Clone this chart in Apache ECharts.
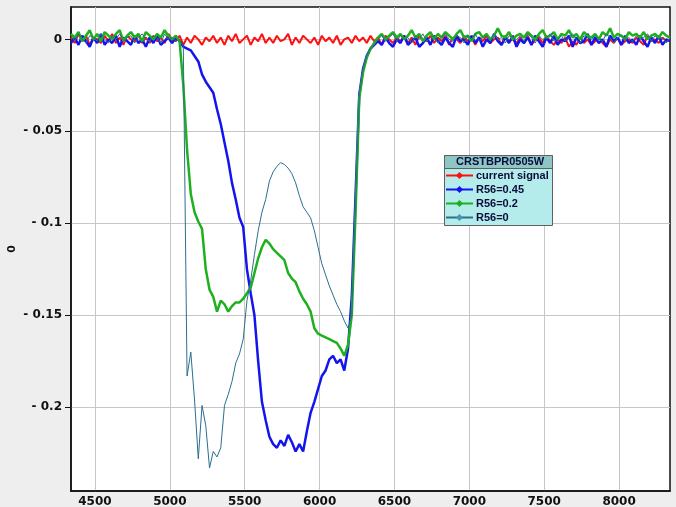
<!DOCTYPE html>
<html>
<head>
<meta charset="utf-8">
<title>CRSTBPR0505W</title>
<script src="https://cdn.jsdelivr.net/npm/echarts@6/dist/echarts.min.js"></script>
<style>
  html, body { margin: 0; padding: 0; background: #eeeeee; }
  #chart { width: 676px; height: 507px; }
</style>
</head>
<body>
<div id="chart"></div>
<script>
// Sample positions (x axis)
const xs = [
  4340,4365,4390,4415,4440,4465,4490,4515,4540,4565,
  4590,4615,4640,4665,4690,4715,4740,4765,4790,4815,
  4840,4865,4890,4915,4940,4965,4990,5015,5040,5065,
  5090,5115,5140,5165,5190,5215,5240,5265,5290,5315,
  5340,5365,5390,5415,5440,5465,5490,5515,5540,5565,
  5590,5615,5640,5665,5690,5715,5740,5765,5790,5815,
  5840,5865,5890,5915,5940,5965,5990,6015,6040,6065,
  6090,6115,6140,6165,6190,6215,6240,6265,6290,6315,
  6340,6365,6390,6415,6440,6465,6490,6515,6540,6565,
  6590,6615,6640,6665,6690,6715,6740,6765,6790,6815,
  6840,6865,6890,6915,6940,6965,6990,7015,7040,7065,
  7090,7115,7140,7165,7190,7215,7240,7265,7290,7315,
  7340,7365,7390,7415,7440,7465,7490,7515,7540,7565,
  7590,7615,7640,7665,7690,7715,7740,7765,7790,7815,
  7840,7865,7890,7915,7940,7965,7990,8015,8040,8065,
  8090,8115,8140,8165,8190,8215,8240,8265,8290,8315,
  8340
];

// current signal
const currentSignal = [
  0.001,-0.002,0.003,-0.001,0.002,-0.003,0.001,0.000,-0.002,0.002,
  -0.001,0.003,-0.002,0.001,-0.003,0.002,0.000,-0.001,0.003,-0.002,
  0.001,-0.002,0.002,-0.001,0.001,-0.002,0.003,0.000,-0.001,0.002,
  -0.003,0.001,-0.002,0.002,0.000,-0.003,0.001,-0.001,0.002,-0.002,
  0.001,-0.003,0.002,-0.001,0.003,-0.002,0.000,0.002,-0.003,0.001,
  -0.001,0.003,-0.002,0.001,-0.002,0.002,-0.001,0.000,0.003,-0.003,
  0.001,-0.002,0.002,0.000,-0.002,0.001,-0.003,0.002,-0.001,0.001,
  -0.002,0.002,-0.003,0.000,0.001,-0.002,0.002,-0.001,0.001,-0.002,
  0.002,-0.001,0.001,-0.003,0.002,0.000,-0.002,0.001,-0.001,0.002,
  -0.002,0.001,-0.003,0.002,0.000,-0.001,0.002,-0.002,0.001,-0.001,
  0.002,-0.003,0.001,0.000,-0.002,0.002,-0.001,0.001,-0.003,0.001,
  -0.001,0.002,-0.002,0.000,0.001,-0.003,0.002,-0.001,0.000,-0.002,
  0.001,-0.002,0.002,-0.003,0.000,0.001,-0.002,0.002,-0.001,-0.003,
  0.000,-0.002,0.001,-0.004,-0.001,-0.003,0.001,-0.002,0.000,-0.003,
  -0.001,0.001,-0.002,-0.004,0.000,-0.002,0.001,-0.003,-0.001,0.000,
  -0.002,0.001,-0.001,-0.003,0.002,-0.001,0.000,-0.002,0.001,-0.001,
  0.000
];

// R56=0.45
const r56_045 = [
  -0.002,0.001,-0.003,0.002,-0.001,-0.004,0.001,-0.002,0.003,-0.003,
  0.000,-0.002,0.002,-0.004,0.001,-0.001,-0.003,0.002,-0.002,0.000,
  -0.004,0.001,-0.002,0.002,-0.003,-0.001,0.001,-0.002,0.001,-0.001,
  -0.004,-0.005,-0.006,-0.009,-0.012,-0.019,-0.023,-0.026,-0.029,-0.038,
  -0.046,-0.056,-0.066,-0.078,-0.087,-0.097,-0.102,-0.125,-0.138,-0.150,
  -0.175,-0.197,-0.207,-0.216,-0.220,-0.222,-0.218,-0.221,-0.215,-0.219,
  -0.224,-0.220,-0.224,-0.213,-0.203,-0.197,-0.190,-0.183,-0.180,-0.174,
  -0.172,-0.176,-0.174,-0.180,-0.168,-0.140,-0.085,-0.030,-0.016,-0.009,
  -0.005,-0.003,-0.001,-0.003,0.001,-0.002,-0.004,0.000,-0.002,0.002,
  -0.003,-0.001,0.001,-0.004,-0.002,0.001,-0.003,0.002,-0.001,-0.003,
  0.001,-0.002,-0.004,0.002,-0.001,0.000,-0.003,0.002,-0.002,0.001,
  -0.004,0.000,-0.002,0.003,-0.001,-0.003,0.001,-0.002,0.002,-0.004,
  0.000,-0.002,0.001,-0.003,0.002,-0.001,-0.004,0.001,-0.002,0.002,
  -0.003,0.000,-0.001,0.002,-0.004,0.001,-0.002,-0.001,0.003,-0.003,
  0.001,-0.002,0.000,-0.004,0.002,-0.001,0.001,-0.003,0.002,-0.002,
  0.000,-0.003,0.002,-0.001,-0.004,0.001,-0.002,0.002,-0.003,0.000,
  -0.001
];

// R56=0.2
const r56_02 = [
  0.003,0.001,0.004,-0.001,0.002,0.005,0.000,0.003,-0.001,0.004,
  0.002,0.000,0.003,0.005,-0.001,0.002,0.004,0.001,0.003,-0.001,
  0.004,0.002,0.000,0.003,0.001,0.005,0.002,0.000,0.002,-0.001,
  -0.025,-0.060,-0.084,-0.094,-0.099,-0.103,-0.125,-0.136,-0.140,-0.148,
  -0.142,-0.144,-0.148,-0.145,-0.143,-0.143,-0.141,-0.138,-0.135,-0.127,
  -0.119,-0.113,-0.109,-0.111,-0.114,-0.116,-0.118,-0.120,-0.127,-0.130,
  -0.132,-0.137,-0.141,-0.144,-0.148,-0.157,-0.160,-0.161,-0.162,-0.163,
  -0.164,-0.165,-0.168,-0.172,-0.166,-0.150,-0.095,-0.032,-0.018,-0.010,
  -0.005,-0.002,0.001,0.003,0.000,0.002,0.004,0.001,0.003,0.000,
  0.002,0.005,0.001,0.003,-0.001,0.002,0.004,0.000,0.003,0.001,
  0.004,0.002,0.000,0.003,0.005,0.001,0.002,-0.001,0.003,0.004,
  0.001,0.003,0.000,0.002,0.006,0.002,0.001,0.004,0.000,0.002,
  0.003,0.001,0.004,0.002,0.000,0.003,0.005,0.001,0.002,0.004,
  0.000,0.003,0.002,0.005,0.001,0.003,0.000,0.004,0.002,0.001,
  0.003,0.000,0.004,0.002,0.006,0.001,0.003,0.002,0.000,0.004,
  0.002,0.003,0.001,0.004,0.000,0.002,0.003,0.001,0.004,0.002,
  0.001
];

// R56=0
const r56_0 = [
  0.002,-0.001,0.003,0.000,-0.002,0.002,0.001,-0.001,0.003,0.000,
  -0.002,0.002,0.000,0.003,-0.001,0.001,0.002,-0.002,0.001,0.003,
  0.000,-0.001,0.002,0.001,-0.002,0.003,0.000,0.001,-0.001,0.000,
  -0.004,-0.183,-0.170,-0.196,-0.228,-0.199,-0.210,-0.233,-0.224,-0.227,
  -0.222,-0.199,-0.193,-0.186,-0.176,-0.171,-0.163,-0.142,-0.131,-0.117,
  -0.104,-0.094,-0.087,-0.077,-0.072,-0.069,-0.067,-0.068,-0.070,-0.073,
  -0.078,-0.085,-0.091,-0.094,-0.097,-0.104,-0.113,-0.122,-0.128,-0.134,
  -0.139,-0.144,-0.148,-0.153,-0.157,-0.150,-0.090,-0.030,-0.016,-0.009,
  -0.005,-0.003,0.000,0.002,-0.001,0.001,0.003,-0.001,0.002,0.000,
  0.001,-0.002,0.002,0.000,0.003,-0.001,0.001,0.002,-0.002,0.001,
  0.003,0.000,-0.001,0.002,0.001,-0.002,0.002,0.000,0.003,-0.001,
  0.001,0.002,-0.001,0.003,0.000,0.001,-0.002,0.002,0.001,0.000,
  0.002,-0.001,0.003,0.001,-0.002,0.002,0.000,0.001,0.003,-0.001,
  0.000,0.002,-0.001,0.001,0.003,0.000,-0.002,0.002,0.001,0.000,
  0.002,0.000,-0.001,0.003,0.001,-0.002,0.001,0.002,0.000,0.001,
  -0.001,0.002,0.000,0.001,0.003,-0.001,0.002,0.000,0.001,-0.002,
  0.001
];

// Axis ticks
const xTicks = [4500, 5000, 5500, 6000, 6500, 7000, 7500, 8000];
const yTicks = [-0.2, -0.15, -0.1, -0.05, 0];

const legendTitle = 'CRSTBPR0505W';
const seriesNames = ['current signal', 'R56=0.45', 'R56=0.2', 'R56=0'];

const pairs = vals => xs.map((x, i) => [x, vals[i]]);

const tickFont = { fontFamily: 'DejaVu Sans', fontWeight: 'bold', fontSize: 12, color: '#111' };
const boxFont = 'Liberation Sans';

const chart = echarts.init(document.getElementById('chart'), null, { renderer: 'canvas' });

function lineSeries(name, vals, color, width, markerColor) {
  return {
    name: name,
    type: 'line',
    data: pairs(vals),
    symbol: 'diamond',
    symbolSize: 7,
    showSymbol: false,
    animation: false,
    color: markerColor || color,
    lineStyle: { color: color, width: width },
    itemStyle: { color: markerColor || color },
    emphasis: { disabled: true }
  };
}

chart.setOption({
  backgroundColor: '#eeeeee',
  animation: false,
  grid: {
    left: 71, top: 7, right: 6, bottom: 16,
    outerBoundsMode: 'none',
    containLabel: false,
    show: true,
    backgroundColor: '#ffffff',
    borderColor: '#111',
    borderWidth: 1.5
  },
  xAxis: {
    type: 'value',
    min: 4340,
    max: 8340,
    axisLine: { show: true, onZero: false, lineStyle: { color: '#111', width: 1.5 } },
    axisTick: { show: false, customValues: xTicks },
    axisLabel: Object.assign({ customValues: xTicks, margin: 5, formatter: v => String(v) }, tickFont),
    splitLine: { show: true, lineStyle: { color: '#c6c6c6', width: 1 } }
  },
  yAxis: {
    type: 'value',
    min: -0.2455,
    max: 0.0176,
    name: '0',
    nameLocation: 'middle',
    nameGap: 53,
    nameMoveOverlap: false,
    nameTextStyle: { fontFamily: 'DejaVu Sans', fontWeight: 'bold', fontSize: 11, color: '#111' },
    axisLine: { show: true, onZero: false, lineStyle: { color: '#111', width: 1.5 } },
    axisTick: { show: true, length: 6, customValues: yTicks, lineStyle: { color: '#111' } },
    axisLabel: Object.assign({
      customValues: yTicks,
      margin: 9,
      formatter: v => (v === 0 ? '0' : '- ' + String(Math.abs(v)))
    }, tickFont),
    splitLine: { show: true, lineStyle: { color: '#c6c6c6', width: 1 } }
  },
  legend: {
    orient: 'vertical',
    left: 445,
    top: 170,
    padding: 0,
    z: 10,
    itemWidth: 27,
    itemHeight: 9,
    itemGap: 3,
    data: seriesNames,
    selectedMode: false,
    textStyle: { fontFamily: boxFont, fontWeight: 'bold', fontSize: 11, color: '#0c0c3a', padding: [0, 0, 0, -2] }
  },
  graphic: [
    {
      type: 'rect',
      left: 444, top: 155, z: 5,
      shape: { width: 108, height: 70 },
      style: { fill: '#b4ecec', stroke: '#606060', lineWidth: 1 }
    },
    {
      type: 'rect',
      left: 444, top: 155, z: 6,
      shape: { width: 108, height: 13 },
      style: { fill: '#8ec6c6', stroke: '#606060', lineWidth: 1 }
    },
    {
      type: 'text',
      left: 456, top: 156, z: 7,
      style: { text: legendTitle, fontFamily: boxFont, fontWeight: 'bold', fontSize: 11, fill: '#0c0c3a' }
    }
  ],
  series: [
    lineSeries(seriesNames[0], currentSignal, '#ff1010', 2),
    lineSeries(seriesNames[1], r56_045, '#1414ee', 2.5),
    lineSeries(seriesNames[2], r56_02, '#1eb01e', 2.5),
    lineSeries(seriesNames[3], r56_0, '#2a6f8e', 1, '#4a94b4')
  ]
});
</script>
</body>
</html>
